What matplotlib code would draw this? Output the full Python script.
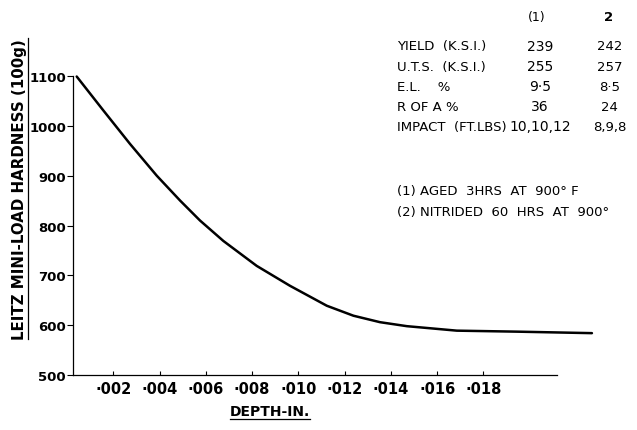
import numpy as np
import matplotlib
matplotlib.use("Agg")
import matplotlib.pyplot as plt
from matplotlib.lines import Line2D

# hardness traverse
depth = [0.00042, 0.00157, 0.00272, 0.00388, 0.00489, 0.00575, 0.00676, 0.00820,
         0.00964, 0.01123, 0.01238, 0.01353, 0.01469, 0.01685, 0.01945, 0.02269]
hardness = [1099, 1031, 964, 900, 850, 810, 769, 719,
            679, 639, 619, 606, 598, 589, 587, 584]

x_ticks = [0.002, 0.004, 0.006, 0.008, 0.010, 0.012, 0.014, 0.016, 0.018]
x_labels = ["·002", "·004", "·006", "·008", "·010", "·012", "·014", "·016", "·018"]
y_ticks = [500, 600, 700, 800, 900, 1000, 1100]

# properties table
props = ["YIELD  (K.S.I.)", "U.T.S.  (K.S.I.)", "E.L.    %", "R OF A %", "IMPACT  (FT.LBS)"]
col1 = ["239", "255", "9·5", "36", "10,10,12"]
col2 = ["242", "257", "8·5", "24", "8,9,8"]
notes = ["(1) AGED  3HRS  AT  900° F", "(2) NITRIDED  60  HRS  AT  900°"]

fig = plt.figure(figsize=(6.37, 4.31), dpi=100)
ax = fig.add_axes([0.1146, 0.1276, 0.815, 0.6937])

ax.plot(depth, hardness, color="black", lw=1.8, clip_on=False,
        solid_capstyle="round", solid_joinstyle="round")

ax.set_xlim(0.00026, 0.0227)
ax.set_ylim(500, 1100)
ax.spines["top"].set_visible(False)
ax.spines["right"].set_visible(False)
ax.spines["bottom"].set_bounds(0.00026, 0.0212)
for s in ["left", "bottom"]:
    ax.spines[s].set_linewidth(0.9)

ax.set_xticks(x_ticks)
ax.set_xticklabels(x_labels)
ax.set_yticks(y_ticks)
ax.tick_params(axis="x", direction="in", length=3, width=0.8, labelsize=10.5, pad=4)
ax.tick_params(axis="y", direction="out", length=4, width=0.8, labelsize=9.5, pad=1)
for lab in ax.get_xticklabels() + ax.get_yticklabels():
    lab.set_fontweight("bold")

xl = fig.text(0.424, 0.045, "DEPTH-IN.", ha="center", va="center",
              fontsize=10, fontweight="bold")
yl = fig.text(0.030, 0.56, "LEITZ MINI-LOAD HARDNESS (100g)", ha="center",
              va="center", rotation=90, fontsize=10.8, fontweight="bold")

# table in the top right corner
fs = 9.5
fig.text(0.843, 0.96, "(1)", ha="center", va="center", fontsize=9)
fig.text(0.955, 0.96, "2", ha="center", va="center", fontsize=9.5, fontweight="bold")
row_y = 0.891
for i in range(len(props)):
    y = row_y - i * 0.0465
    fig.text(0.623, y, props[i], ha="left", va="center", fontsize=fs)
    fig.text(0.848, y, col1[i], ha="center", va="center", fontsize=fs + 0.5)
    fig.text(0.957, y, col2[i], ha="center", va="center", fontsize=fs)
fig.text(0.623, 0.555, notes[0], ha="left", va="center", fontsize=fs)
fig.text(0.623, 0.508, notes[1], ha="left", va="center", fontsize=fs)

# hand drawn underlines beneath the axis titles
fig.canvas.draw()
r = fig.canvas.get_renderer()
bb = xl.get_window_extent(r)
fig.add_artist(Line2D([bb.x0, bb.x1], [bb.y0 - 1, bb.y0 - 1], transform=None,
                      color="black", lw=0.9))
bb = yl.get_window_extent(r)
fig.add_artist(Line2D([bb.x1 + 1, bb.x1 + 1], [bb.y0, bb.y1], transform=None,
                      color="black", lw=0.9))

fig.savefig("out.png", dpi=100)
